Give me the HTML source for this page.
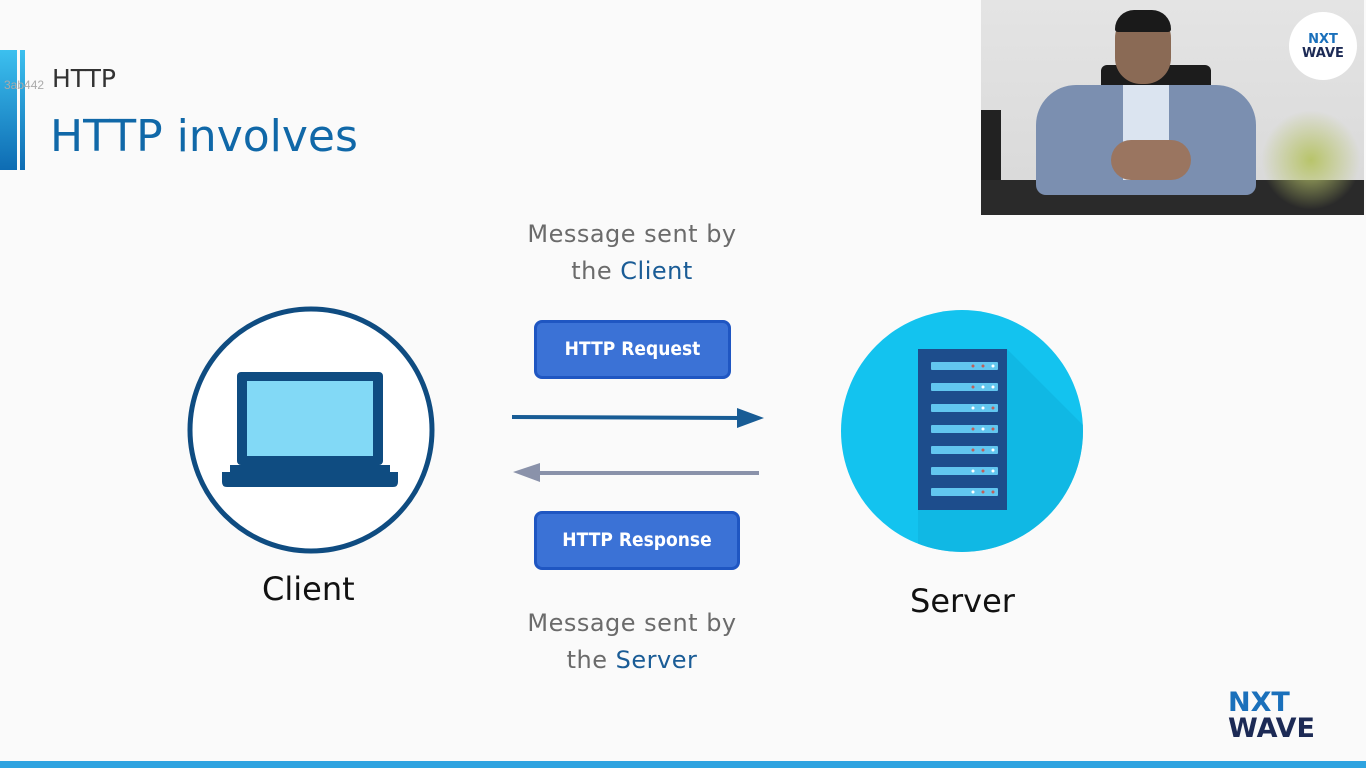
<!DOCTYPE html>
<html><head><meta charset="utf-8"><style>
body{margin:0;width:1366px;height:768px;overflow:hidden;background:#fafafa;font-family:"DejaVu Sans",sans-serif;position:relative}
.a{position:absolute}
.t{color:#6b6b6b;font-size:24px;text-align:center;width:320px;line-height:37px;letter-spacing:0.5px}
.t b{font-weight:normal;color:#1a5c96}
.btn{background:#3b72d6;border:3px solid #1f56c2;border-radius:8px;color:#fff;font-family:"Comic Sans MS","DejaVu Sans Condensed","DejaVu Sans",sans-serif;font-weight:bold;font-size:19px;text-align:center;box-sizing:border-box}
</style></head><body>
<div class="a" style="left:0;top:50px;width:17px;height:120px;background:linear-gradient(#3cc0ef,#0e6cb3)"></div>
<div class="a" style="left:20px;top:50px;width:5px;height:120px;background:linear-gradient(#3cc0ef,#0e6cb3)"></div>
<div class="a" style="left:4px;top:78px;font-size:12px;color:#aaa;font-family:'Liberation Sans',sans-serif">3ab442</div>
<div class="a" style="left:52px;top:64px;font-size:25px;color:#333">HTTP</div>
<div class="a" style="left:50px;top:111px;font-size:44px;color:#1068a8">HTTP involves</div>

<div class="a t" style="left:472px;top:216px">Message sent by<br>the <b>Client</b></div>
<div class="a t" style="left:472px;top:605px">Message sent by<br>the <b>Server</b></div>
<div class="a btn" style="left:534px;top:320px;width:197px;height:59px;line-height:53px">HTTP Request</div>
<div class="a btn" style="left:534px;top:511px;width:206px;height:59px;line-height:53px">HTTP Response</div>
<div class="a" style="left:262px;top:570px;font-size:32px;color:#111">Client</div>
<div class="a" style="left:910px;top:582px;font-size:32px;color:#111">Server</div>

<svg class="a" style="left:0;top:0" width="1366" height="768">
<line x1="512" y1="417" x2="742" y2="418" stroke="#185c95" stroke-width="4"/>
<polygon points="737,408 764,418 737,428" fill="#185c95"/>
<line x1="535" y1="473" x2="759" y2="473" stroke="#8a92aa" stroke-width="4"/>
<polygon points="540,463 513,472 540,482" fill="#8a92aa"/>
<circle cx="311" cy="430" r="121" fill="#fff" stroke="#0f4c81" stroke-width="5"/>
<rect x="237" y="372" width="146" height="93" rx="4" fill="#0f4c81"/>
<rect x="247" y="381" width="126" height="75" fill="#82d9f6"/>
<path d="M222 472 H398 V482 Q398 487 393 487 H227 Q222 487 222 482 Z" fill="#0f4c81"/>
<rect x="230" y="465" width="160" height="9" fill="#0f4c81"/>
<defs><clipPath id="c"><circle cx="962" cy="431" r="121"/></clipPath></defs>
<circle cx="962" cy="431" r="121" fill="#13c3ef"/>
<polygon clip-path="url(#c)" points="1007,349 1120,462 1120,640 918,640 918,510 1007,510" fill="#0fb0dc" opacity="0.6"/>
<rect x="918" y="349" width="89" height="161" fill="#1d4d8c"/>
<g fill="#62c6ef">
<rect x="931" y="362" width="67" height="8" rx="1"/><rect x="931" y="383" width="67" height="8" rx="1"/><rect x="931" y="404" width="67" height="8" rx="1"/><rect x="931" y="425" width="67" height="8" rx="1"/><rect x="931" y="446" width="67" height="8" rx="1"/><rect x="931" y="467" width="67" height="8" rx="1"/><rect x="931" y="488" width="67" height="8" rx="1"/></g>
<g fill="#c0605a">
<circle cx="973" cy="366" r="1.5"/><circle cx="983" cy="366" r="1.5"/><circle cx="973" cy="387" r="1.5"/><circle cx="993" cy="408" r="1.5"/><circle cx="973" cy="429" r="1.5"/><circle cx="993" cy="429" r="1.5"/><circle cx="973" cy="450" r="1.5"/><circle cx="983" cy="450" r="1.5"/><circle cx="983" cy="471" r="1.5"/><circle cx="983" cy="492" r="1.5"/><circle cx="993" cy="492" r="1.5"/></g>
<g fill="#fff">
<circle cx="993" cy="366" r="1.5"/><circle cx="983" cy="387" r="1.5"/><circle cx="993" cy="387" r="1.5"/><circle cx="973" cy="408" r="1.5"/><circle cx="983" cy="408" r="1.5"/><circle cx="983" cy="429" r="1.5"/><circle cx="993" cy="450" r="1.5"/><circle cx="973" cy="471" r="1.5"/><circle cx="993" cy="471" r="1.5"/><circle cx="973" cy="492" r="1.5"/></g>
<rect x="0" y="761" width="1366" height="7" fill="#2ea3e0"/>
</svg>

<div class="a" style="left:1228px;top:690px;font-weight:bold;font-size:27px;line-height:26px"><span style="color:#1a70bb">NXT</span><br><span style="color:#1c2a55">WAVE</span></div>

<div class="a" style="left:981px;top:0;width:383px;height:215px;overflow:hidden;background:linear-gradient(#e4e4e4,#d8d8d8)">
<div class="a" style="left:0;top:110px;width:20px;height:105px;background:#222"></div>
<div class="a" style="left:0;top:180px;width:383px;height:35px;background:#2a2a2a"></div>
<div class="a" style="left:120px;top:65px;width:110px;height:40px;background:#1c1c1c;border-radius:6px"></div>
<div class="a" style="left:55px;top:85px;width:220px;height:110px;background:#7b8fb0;border-radius:40px 40px 10px 10px"></div>
<div class="a" style="left:142px;top:85px;width:46px;height:95px;background:#dbe4f0"></div>
<div class="a" style="left:134px;top:12px;width:56px;height:72px;background:#8a6a55;border-radius:26px"></div>
<div class="a" style="left:134px;top:10px;width:56px;height:22px;background:#1a1a1a;border-radius:26px 26px 4px 4px"></div>
<div class="a" style="left:130px;top:140px;width:80px;height:40px;background:#9a7560;border-radius:20px"></div>
<div class="a" style="left:280px;top:110px;width:100px;height:100px;background:radial-gradient(#b8c46a,transparent 70%)"></div>
<div class="a" style="left:308px;top:12px;width:68px;height:68px;border-radius:50%;background:#fff;font-weight:bold;font-size:13px;line-height:14px;text-align:center;box-sizing:border-box;padding-top:21px"><span style="color:#1a70bb">NXT</span><br><span style="color:#1c2a55">WAVE</span></div>
</div>
</body></html>
